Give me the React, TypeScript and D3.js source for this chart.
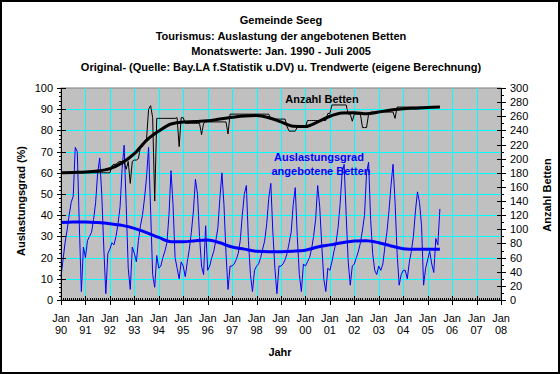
import React from "react";
import * as d3 from "d3";

const W = 560;
const H = 374;

const titleLines = [
  "Gemeinde Seeg",
  "Tourismus: Auslastung der angebotenen Betten",
  "Monatswerte: Jan. 1990 - Juli 2005",
  "Original- (Quelle: Bay.LA f.Statistik u.DV) u. Trendwerte (eigene Berechnung)",
];

const yearLabels = ["90", "91", "92", "93", "94", "95", "96", "97", "98", "99", "00", "01", "02", "03", "04", "05", "06", "07", "08"];
const leftTicks = [0, 10, 20, 30, 40, 50, 60, 70, 80, 90, 100];
const rightTicks = [0, 20, 40, 60, 80, 100, 120, 140, 160, 180, 200, 220, 240, 260, 280, 300];

// Auslastungsgrad (%) monthly, Jan 1990 - Jul 2005
const occupancy = [
  11, 19, 27, 33, 40, 46, 49, 72, 70, 35, 4, 25,
  20, 28, 30, 32, 38, 46, 60, 67, 50, 25, 3, 22,
  24, 27, 26, 30, 36, 44, 62, 73, 45, 15, 5, 25,
  22, 18, 28, 35, 40, 48, 58, 72, 42, 12, 6, 21,
  15, 16, 20, 23, 27, 40, 61, 45, 20, 15, 10, 18,
  16, 11, 18, 24, 32, 42, 57, 50, 30, 16, 12, 35,
  14, 16, 20, 23, 28, 34, 48, 60, 45, 22, 5, 16,
  16, 17, 19, 22, 28, 40, 50, 54, 28, 12, 4, 14,
  16, 17, 20, 24, 28, 36, 48, 55, 32, 15, 3, 16,
  16, 17, 19, 22, 27, 32, 45, 53, 30, 12, 4, 17,
  16, 18, 20, 24, 30, 38, 54, 44, 26, 10, 4, 15,
  14, 18, 23, 27, 34, 45, 60, 64, 40, 18, 7, 16,
  17, 20, 23, 27, 33, 40, 60, 65, 38, 22, 14, 12,
  16, 14, 17, 25, 32, 42, 54, 64, 46, 22, 7, 12,
  14, 14, 10, 18, 23, 30, 42, 51, 46, 35, 7, 15,
  19, 23, 17, 13, 29, 26, 43,
];

// Anzahl Betten monthly
const beds = [
  180, 180, 180, 180, 180, 180, 180, 180, 180, 180, 180, 180,
  180, 180, 180, 180, 180, 180, 180, 180, 180, 180, 180, 180,
  180, 190, 192, 192, 195, 196, 196, 196, 185, 196, 165, 196,
  198, 198, 200, 217, 219, 225, 228, 270, 275, 258, 140, 257,
  257, 257, 257, 257, 257, 257, 257, 257, 257, 258, 217, 258,
  258, 250, 250, 250, 250, 250, 250, 250, 250, 234, 250, 252,
  252, 252, 252, 252, 252, 252, 252, 252, 252, 252, 235, 263,
  263, 263, 263, 263, 263, 263, 263, 263, 263, 263, 263, 263,
  263, 263, 263, 263, 263, 263, 263, 256, 256, 256, 256, 256,
  256, 256, 256, 245, 239, 239, 239, 239, 245, 245, 245, 245,
  245, 254, 254, 254, 254, 254, 254, 254, 254, 254, 254, 264,
  264, 276, 276, 276, 276, 276, 276, 276, 276, 263, 263, 253,
  263, 263, 263, 263, 244, 244, 244, 263, 266, 266, 266, 266,
  266, 266, 266, 266, 266, 266, 266, 266, 257, 273, 273, 273,
  273, 273, 273, 273, 273, 273, 273, 273, 273, 273, 273, 273,
  273, 273, 273, 273, 273, 273, 273,
];

// Trend values (half-yearly, month index since Jan 1990)
const trendMonths = [0, 6, 12, 18, 24, 30, 36, 42, 48, 54, 60, 66, 72, 78, 84, 90, 96, 102, 108, 114, 120, 126, 132, 138, 144, 150, 156, 162, 168, 174, 180, 186];
const occTrend = [36.5, 36.8, 36.8, 36.5, 36, 35.2, 33.8, 31.8, 29.5, 27.5, 27.5, 28, 28.3, 27, 25, 24, 23, 22.8, 22.8, 23, 23.5, 25, 26, 27, 27.8, 28, 27, 25.5, 24.2, 23.9, 23.9, 23.9];
const bedsTrend = [180, 180.5, 181, 182.5, 186, 194, 207, 226, 239, 249, 252, 252.5, 253.5, 256, 258.5, 260.5, 261, 258, 252, 246, 245.5, 252, 260, 264.5, 265, 263.5, 266, 269, 270.5, 271.5, 272.5, 273];

const FONT = "'Liberation Sans', Arial, sans-serif";

export default function App() {
  const left = 61, right = 501, top = 88, bottom = 300;
  const x = d3.scaleLinear().domain([0, 216]).range([left, right]);
  const y = d3.scaleLinear().domain([0, 100]).range([bottom, top]);
  const yR = d3.scaleLinear().domain([0, 300]).range([bottom, top]);

  const occLine = d3.line<number>().x((_, i) => x(i)).y((d) => y(d));
  const bedsLine = d3.line<number>().x((_, i) => x(i)).y((d) => yR(d));
  const occTrendLine = d3.line<number>().x((_, i) => x(trendMonths[i])).y((d) => y(d)).curve(d3.curveMonotoneX);
  const bedsTrendLine = d3.line<number>().x((_, i) => x(trendMonths[i])).y((d) => yR(d)).curve(d3.curveMonotoneX);

  const px = (v: number) => Math.round(v) + 0.5;
  const monthTicks = d3.range(0, 217);
  const leftMinor = d3.range(0, 101, 2);
  const rightMinor = d3.range(0, 301, 10);

  return (
    <div style={{ position: "fixed", left: 0, top: 0 }}>
      <svg width={W} height={H} style={{ display: "block", fontFamily: FONT }}>
        <rect x={0} y={0} width={W} height={H} fill="#fff" />
        <rect x={1} y={1} width={W - 2} height={H - 2} fill="none" stroke="#000" strokeWidth={2} />

        {titleLines.map((t, i) => (
          <text key={i} x={281} y={24 + i * 15.5} textAnchor="middle" fontSize={11} fontWeight="bold" fill="#000">
            {t}
          </text>
        ))}

        <rect x={left} y={top} width={right - left} height={bottom - top} fill="#C0C0C0" stroke="#808080" strokeWidth={1} />

        {/* grid */}
        {leftTicks.filter((t) => t > 0 && t < 100).map((t) => (
          <line key={"gh" + t} x1={left} x2={right} y1={px(y(t))} y2={px(y(t))} stroke="#00FFFF" strokeWidth={1} />
        ))}
        {yearLabels.map((_, i) => i).filter((i) => i > 0 && i < 18).map((i) => (
          <line key={"gv" + i} x1={px(x(i * 12))} x2={px(x(i * 12))} y1={top} y2={bottom} stroke="#00FFFF" strokeWidth={1} />
        ))}

        {/* data */}
        <path d={occLine(occupancy) || ""} fill="none" stroke="#0000FF" strokeWidth={1} />
        <path d={occTrendLine(occTrend) || ""} fill="none" stroke="#0000FF" strokeWidth={3} />
        <path d={bedsLine(beds) || ""} fill="none" stroke="#000" strokeWidth={1} />
        <path d={bedsTrendLine(bedsTrend) || ""} fill="none" stroke="#000" strokeWidth={3} />

        {/* axes */}
        <line x1={left + 0.5} x2={left + 0.5} y1={top} y2={bottom + 1} stroke="#000" />
        <line x1={right + 0.5} x2={right + 0.5} y1={top} y2={bottom + 1} stroke="#000" />
        <line x1={left} x2={right + 1} y1={bottom + 0.5} y2={bottom + 0.5} stroke="#000" />

        {leftMinor.map((t) => (
          <line key={"lm" + t} x1={left - 2} x2={left + 1} y1={px(y(t))} y2={px(y(t))} stroke="#000" />
        ))}
        {leftTicks.map((t) => (
          <g key={"lt" + t}>
            <line x1={left - 4} x2={left + 5} y1={px(y(t))} y2={px(y(t))} stroke="#000" />
            <text x={53} y={y(t) + 4} textAnchor="end" fontSize={11} fill="#000">{t}</text>
          </g>
        ))}

        {rightMinor.map((t) => (
          <line key={"rm" + t} x1={right} x2={right + 3} y1={px(yR(t))} y2={px(yR(t))} stroke="#000" />
        ))}
        {rightTicks.map((t) => (
          <g key={"rt" + t}>
            <line x1={right - 4} x2={right + 5} y1={px(yR(t))} y2={px(yR(t))} stroke="#000" />
            <text x={510} y={yR(t) + 4} textAnchor="start" fontSize={11} fill="#000">{t}</text>
          </g>
        ))}

        {monthTicks.map((m) => (
          <line key={"xm" + m} x1={px(x(m))} x2={px(x(m))} y1={bottom - 2} y2={bottom} stroke="#000" />
        ))}
        {yearLabels.map((lab, i) => (
          <g key={"xt" + i}>
            <line x1={px(x(i * 12))} x2={px(x(i * 12))} y1={bottom - 4} y2={bottom + 5} stroke="#000" />
            <text x={x(i * 12)} y={322} textAnchor="middle" fontSize={11} fill="#000">Jan</text>
            <text x={x(i * 12)} y={334} textAnchor="middle" fontSize={11} fill="#000">{lab}</text>
          </g>
        ))}

        <text x={280} y={356} textAnchor="middle" fontSize={11} fontWeight="bold" fill="#000">Jahr</text>
        <text transform="translate(25,201) rotate(-90)" textAnchor="middle" fontSize={11} fontWeight="bold" fill="#000">Auslastungsgrad (%)</text>
        <text transform="translate(551,195) rotate(-90)" textAnchor="middle" fontSize={11} fontWeight="bold" fill="#000">Anzahl Betten</text>

        <text x={322} y={103} textAnchor="middle" fontSize={11} fontWeight="bold" fill="#000">Anzahl Betten</text>
        <text x={319} y={161} textAnchor="middle" fontSize={11} fontWeight="bold" fill="#0000FF">Auslastungsgrad</text>
        <text x={321} y={175} textAnchor="middle" fontSize={11} fontWeight="bold" fill="#0000FF">angebotene Betten</text>
      </svg>
    </div>
  );
}
